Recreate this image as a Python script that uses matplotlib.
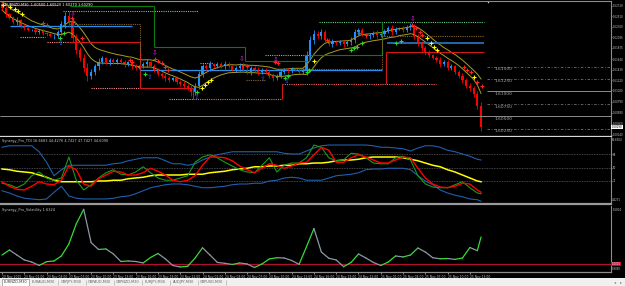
import numpy as np
import pandas as pd
import matplotlib
matplotlib.use("Agg")
import matplotlib.pyplot as plt
from matplotlib.transforms import blended_transform_factory as blend

plt.rcParams['font.family'] = ['DejaVu Sans']

# window texts
symbol_title = "\u25be EURNZD,M30  1.60500 1.60520 1.60270 1.60290"
tdi_title = "Synergy_Pro_TDI 16.6683 44.4276 4.7427 47.7427 44.6090"
vol_title = "Synergy_Pro_Volatility 1.6324"
tabs = ["EURNZD,M30", "EURAUD,M30", "GBPJPY,M30", "GBPAUD,M30",
        "GBPNZD,M30", "EURJPY,M30", "AUDJPY,M30", "GBPUSD,M30"]

# M30 candles (close of each bar, open = previous close)
first_open = 1.6275
closes = [1.6267, 1.6255, 1.6247, 1.6239, 1.6243, 1.6231, 1.6227, 1.6223, 1.6223, 1.6219,
          1.6221, 1.6217, 1.6215, 1.6211, 1.6211, 1.6219, 1.6235, 1.6251, 1.6239, 1.6207,
          1.6183, 1.6167, 1.6147, 1.6131, 1.6139, 1.6151, 1.6159, 1.6167, 1.6159, 1.6163,
          1.6159, 1.6163, 1.6159, 1.6155, 1.6159, 1.6151, 1.6147, 1.6151, 1.6155, 1.6159,
          1.6151, 1.6143, 1.6135, 1.6131, 1.6127, 1.6123, 1.6127, 1.6119, 1.6115, 1.6111,
          1.6107, 1.6099, 1.6111, 1.6135, 1.6151, 1.6147, 1.6155, 1.6151, 1.6155, 1.6151,
          1.6155, 1.6151, 1.6143, 1.6147, 1.6151, 1.6143, 1.6139, 1.6147, 1.6143, 1.6139,
          1.6143, 1.6139, 1.6131, 1.6127, 1.6131, 1.6139, 1.6143, 1.6141, 1.6145, 1.6143,
          1.6139, 1.6143, 1.6171, 1.6203, 1.6215, 1.6211, 1.6219, 1.6203, 1.6195, 1.6199,
          1.6197, 1.6199, 1.6195, 1.6199, 1.6203, 1.6219, 1.6223, 1.6215, 1.6211, 1.6213,
          1.6217, 1.6213, 1.6215, 1.6221, 1.6227, 1.6219, 1.6225, 1.6227, 1.6223, 1.6229,
          1.6231, 1.6211, 1.6195, 1.6187, 1.6179, 1.6173, 1.6167, 1.6163, 1.6155, 1.6159,
          1.6147, 1.6151, 1.6139, 1.6131, 1.6123, 1.6111, 1.6107, 1.6095, 1.6071, 1.6029]
wicks_pips = [4, 5, 3, 4, 6, 3, 4, 3, 2, 4, 3, 4, 3, 2, 5, 4, 6, 8, 10, 8,
              9, 6, 8, 10, 7, 5, 8, 4, 3, 5, 4, 3, 4, 5, 3, 6, 4, 3, 5, 6,
              3, 4, 3, 5, 6, 4, 3, 5, 4, 6, 5, 8, 6, 7, 5, 4, 6, 3, 5, 4,
              6, 5, 3, 4, 6, 4, 3, 5, 4, 6, 4, 3, 5, 6, 4, 5, 3, 4, 5, 3,
              4, 3, 10, 8, 9, 7, 6, 5, 4, 6, 3, 4, 5, 4, 6, 7, 5, 4, 3, 5,
              4, 6, 3, 4, 5, 6, 4, 3, 5, 4, 6, 5, 4, 6, 5, 4, 3, 5, 6, 4,
              5, 4, 3, 5, 6, 4, 6, 5, 7, 9]
last_price = 1.6029

price_ticks = [1.6272, 1.6251, 1.6230, 1.62085, 1.61875, 1.6164, 1.6143, 1.6122,
               1.6102, 1.6079, 1.6058, 1.6036, 1.6014]
round_levels = [1.6150, 1.6125, 1.6100, 1.6075, 1.6050, 1.6025]
round_labels = ["1.61500", "1.61250", "1.61000", "1.60750", "1.60500", "1.60250"]
solid_levels = [1.6100, 1.6050]

# signal marks (bar, price)
yellow_bars = [0.3, 2.2, 3.5, 4.3, 5.4, 53.8, 54.6, 55.4, 56.2, 84.1, 114.5, 115.6, 116.4, 117.2, 127.2]
yellow_prices = [1.6273, 1.6269, 1.6265, 1.6261, 1.6255, 1.6107, 1.6113, 1.6119, 1.6123, 1.6161,
                 1.6207, 1.6197, 1.6189, 1.6183, 1.6129]
green_bars = [15.6, 16.7, 38.4, 52.4, 76.1, 76.9, 82.0, 82.8, 94.1, 94.9, 95.7, 97.0, 106.2, 107.5]
green_prices = [1.6207, 1.6217, 1.6135, 1.6099, 1.6127, 1.6131, 1.6139, 1.6143, 1.6183, 1.6187,
                1.6189, 1.6197, 1.6197, 1.6201]
red_bars = [11.0, 12.1, 18.8, 19.1, 21.5, 34.4, 35.0, 41.1, 41.9, 43.0, 43.8, 44.6, 64.8, 65.9,
            73.4, 74.2, 87.4, 96.2, 98.1, 110.5, 111.6, 112.6, 113.2, 124.5, 125.3, 126.3, 128.0, 129.3]
red_prices = [1.6237, 1.6233, 1.6247, 1.6241, 1.6207, 1.6163, 1.6159, 1.6165, 1.6161, 1.6157,
              1.6149, 1.6143, 1.6153, 1.6151, 1.6159, 1.6157, 1.6203, 1.6217, 1.6213, 1.6233,
              1.6227, 1.6219, 1.6213, 1.6149, 1.6143, 1.6139, 1.6119, 1.6111]
sell_arrow_bars = [19.1, 41.1, 64.5, 73.7, 110.5]
sell_arrow_prices = [1.6255, 1.6177, 1.6165, 1.6163, 1.6245]
buy_arrow_bars = [15.9, 39.8, 52.4, 70.2, 76.6]
buy_arrow_prices = [1.6197, 1.6129, 1.6089, 1.6125, 1.6121]

# support / resistance steps: (from bar, to bar, price)
red_solid = [(0, 15.1, 1.6273), (18.3, 37.1, 1.6199), (37.1, 51.3, 1.6107), (103.5, 129.9, 1.6179)]
red_joins = [(37.1, 1.6199, 1.6107), (51.3, 1.6107, 1.6085), (75.5, 1.6085, 1.6115), (103.5, 1.6115, 1.6179)]
red_dotted = [(51.3, 75.5, 1.6085), (75.5, 117.0, 1.6115)]
salmon_dotted = [(4.8, 11.6, 1.6209), (12.0, 18.3, 1.6199), (24.0, 37.1, 1.6107), (45.0, 51.3, 1.6085)]
green_solid = [(18.3, 40.8, 1.6271), (40.8, 65.5, 1.6189), (65.5, 82.8, 1.6161), (82.8, 102.4, 1.6173)]
green_joins = [(40.8, 1.6271, 1.6189), (65.5, 1.6189, 1.6161), (82.8, 1.6161, 1.6173), (102.4, 1.6173, 1.6239)]
green_dotted = [(16.4, 52.7, 1.6261), (53.2, 56.7, 1.6157), (70.7, 82.8, 1.6173), (85.5, 129.9, 1.6239)]
blue_levels = [(2.2, 35.0, 1.6231), (37.1, 102.4, 1.6143)]
steel_levels = [(103.8, 129.9, 1.6197)]
brown_dotted = [(18.3, 37.1, 1.6235), (65.8, 71.2, 1.6123), (78.2, 102.4, 1.6145), (102.4, 129.9, 1.6211)]
brown_joins = [(37.1, 1.6235, 1.6159), (102.4, 1.6145, 1.6211)]

# TDI (sampled every second bar)
tdi_bars = list(range(0, 130, 2)) + [129]
tdi_upper = [77, 79, 79, 79, 79, 71, 57, 39, 47, 53, 53, 53, 53, 53, 53, 55, 56, 59, 61, 63,
             63, 63, 59, 55, 55, 53, 55, 60, 64, 67, 69, 71, 71, 71, 71, 71, 71, 71, 69, 68,
             68, 72, 76, 79, 80, 80, 80, 80, 80, 80, 79, 77, 77, 76, 75, 72, 76, 79, 79, 77,
             73, 71, 68, 65, 61, 60]
tdi_lower = [19, 16, 12, 9, 8, 7, 8, 17, 25, 12, 9, 8, 8, 8, 8, 9, 11, 12, 15, 19,
             23, 25, 27, 28, 28, 27, 25, 23, 23, 24, 25, 27, 28, 28, 29, 29, 32, 33, 36, 37,
             36, 33, 33, 33, 36, 39, 40, 41, 43, 47, 48, 48, 49, 49, 49, 47, 39, 32, 27, 20,
             16, 13, 11, 8, 7, 5]
tdi_base = [48, 47, 45, 44, 43, 40, 37, 33, 31, 31, 31, 31, 31, 32, 32, 33, 33, 35, 36, 37,
            39, 40, 40, 40, 40, 41, 41, 41, 43, 44, 45, 47, 48, 49, 51, 51, 52, 52, 53, 53,
            55, 55, 56, 56, 57, 59, 60, 60, 61, 63, 64, 64, 64, 64, 63, 61, 59, 56, 53, 51,
            47, 44, 40, 36, 32, 31]
tdi_signal = [31, 25, 21, 20, 25, 31, 28, 27, 33, 52, 47, 28, 25, 35, 40, 45, 44, 40, 40, 43,
              49, 45, 40, 33, 31, 33, 39, 53, 64, 64, 63, 59, 52, 47, 43, 49, 55, 53, 49, 52,
              56, 57, 67, 77, 73, 57, 57, 63, 67, 64, 60, 56, 56, 60, 64, 63, 49, 36, 28, 24,
              23, 25, 29, 28, 20, 17]
tdi_rsi = [29, 27, 23, 28, 39, 44, 36, 33, 36, 64, 33, 20, 27, 36, 43, 47, 41, 40, 44, 51,
           43, 36, 33, 33, 36, 39, 57, 64, 67, 63, 57, 52, 47, 44, 43, 53, 63, 44, 53, 56,
           56, 63, 80, 77, 63, 59, 60, 69, 68, 63, 56, 55, 55, 63, 65, 60, 39, 28, 24, 23,
           23, 27, 31, 23, 16, 15]
tdi_levels = [68, 50, 32]

volatility = [1.105, 1.164, 1.105, 1.047, 1.023, 0.982, 1.027, 1.035, 1.094, 1.234,
              1.47, 1.64, 1.25, 1.170, 1.176, 1.117, 1.029, 1.035, 1.029, 1.012,
              1.076, 1.123, 1.059, 0.982, 0.965, 0.973, 1.070, 1.190, 1.105, 1.018,
              1.008, 0.994, 1.012, 1.000, 0.959, 1.000, 1.059, 1.073, 1.070, 1.041,
              0.996, 1.202, 1.415, 1.140, 1.067, 1.047, 0.968, 1.018, 1.117, 1.070,
              1.018, 0.982, 1.023, 1.094, 1.082, 1.105, 1.187, 1.140, 1.073, 1.061,
              1.064, 1.054, 1.070, 1.193, 1.156, 1.316]
vol_level = 1.0

time_bars = list(range(0, 130, 6))
time_labels = ["20 Nov 2015", "23 Nov 01:00", "23 Nov 04:00", "23 Nov 07:00", "23 Nov 10:00",
               "23 Nov 13:00", "23 Nov 16:00", "23 Nov 19:00", "23 Nov 22:00", "24 Nov 01:00",
               "24 Nov 04:00", "24 Nov 07:00", "24 Nov 10:00", "24 Nov 13:00", "24 Nov 16:00",
               "24 Nov 19:00", "24 Nov 22:00", "25 Nov 01:00", "25 Nov 04:00", "25 Nov 07:00",
               "25 Nov 10:00", "25 Nov 13:00"]

GRID = '#8c8c8c'
TXT = '#c8c8c8'
FS = 2.5     # panel titles
FSR = 1.9    # right-hand scale labels
XLIM = (-0.54, 164.0)

fig = plt.figure(figsize=(6.25, 2.86), dpi=100, facecolor='black')
W, H = 625.0, 286.0


def px_axes(x0, y0, x1, y1):
    return fig.add_axes([x0 / W, 1 - y1 / H, (x1 - x0) / W, (y1 - y0) / H])


ax = px_axes(0, 1, 611, 136)
ax_tdi = px_axes(0, 137, 611, 204)
ax_vol = px_axes(0, 206, 611, 272)
ax_tab = px_axes(0, 278, 625, 286)

for a in (ax, ax_tdi, ax_vol):
    a.set_facecolor('black')
    a.set_xlim(*XLIM)
    a.spines['left'].set_visible(False)
    a.spines['top'].set_visible(False)
    a.spines['right'].set_color(GRID)
    a.spines['right'].set_linewidth(0.8)
    a.yaxis.tick_right()
    a.tick_params(axis='y', labelsize=FSR, colors=TXT, length=1.0, width=0.5, pad=0.3)
    a.tick_params(axis='x', bottom=False, labelbottom=False)
ax.spines['top'].set_visible(True)
ax.spines['top'].set_color(GRID)
ax.spines['bottom'].set_color('#d8d8d8')
ax.spines['bottom'].set_linewidth(0.9)
ax_tdi.spines['bottom'].set_color('#9a9a9a')
ax_tdi.spines['bottom'].set_linewidth(1.6)
ax_vol.spines['bottom'].set_color(GRID)
ax_vol.spines['bottom'].set_linewidth(0.9)

# ---------------- main price chart ----------------
ax.set_ylim(1.6011, 1.6281)
bars = np.arange(len(closes))
cl = np.array(closes)
op = np.array([first_open] + closes[:-1])
wk = np.array(wicks_pips) * 0.0001
hi = np.maximum(op, cl) + wk
lo = np.minimum(op, cl) - wk
col = np.where(cl >= op, '#1e90ff', '#ff0000')

# olive channel of the highs and lows
ax.plot(bars, pd.Series(hi).ewm(span=10).mean(), color='#a89e22', lw=0.7)
ax.plot(bars, pd.Series(lo).ewm(span=10).mean(), color='#a89e22', lw=0.7)


def draw_levels(segs, color, lw, ls):
    for b0, b1, p in segs:
        ax.hlines(p, b0, b1, colors=color, lw=lw, linestyles=ls)


def draw_joins(joins, color, lw, ls):
    for b, p0, p1 in joins:
        ax.vlines(b, min(p0, p1), max(p0, p1), colors=color, lw=lw, linestyles=ls)


draw_levels(salmon_dotted, '#ff8c8c', 0.8, (0, (1, 1)))
draw_levels(red_dotted, '#ff6060', 0.8, (0, (1, 1)))
draw_levels(red_solid, '#d01818', 0.8, '-')
draw_joins(red_joins, '#d01818', 0.8, '-')
draw_levels(green_dotted, '#60d080', 0.8, (0, (1, 1)))
draw_levels(green_solid, '#0c7a0c', 0.8, '-')
draw_joins(green_joins, '#0c7a0c', 0.8, '-')
draw_levels(brown_dotted, '#8a6426', 0.8, (0, (1, 1)))
draw_joins(brown_joins, '#8a6426', 0.8, (0, (1, 1)))
draw_levels(blue_levels, '#2a8ee8', 0.9, '-')
draw_levels(steel_levels, '#2d6db8', 1.3, '-')

ax.vlines(bars, lo, hi, colors=col, lw=0.6)
ax.bar(bars, np.maximum(np.abs(cl - op), 0.00006), bottom=np.minimum(op, cl),
       width=0.58, color=col, lw=0)

ax.scatter(yellow_bars, yellow_prices, marker='+', s=5, color='#ffff00', lw=0.8, zorder=5)
ax.scatter(green_bars, green_prices, marker='+', s=5, color='#22dd22', lw=0.8, zorder=5)
ax.scatter(red_bars, red_prices, marker='+', s=5, color='#ff2020', lw=0.8, zorder=5)
for b, p in zip(sell_arrow_bars, sell_arrow_prices):
    ax.text(b, p, '\u21e9', color='#e020e0', fontsize=5, ha='center', va='center', zorder=6)
for b, p in zip(buy_arrow_bars, buy_arrow_prices):
    ax.text(b, p, '\u21e7', color='#3050e0', fontsize=5, ha='center', va='center', zorder=6)

# round-number levels in the shifted area
for lvl, lab in zip(round_levels, round_labels):
    if lvl == 1.6050:
        ax.hlines(lvl, XLIM[0], XLIM[1], colors=GRID, lw=0.7)
    elif lvl in solid_levels:
        ax.hlines(lvl, 130.6, XLIM[1], colors=GRID, lw=0.7)
    else:
        ax.hlines(lvl, 130.6, XLIM[1], colors='#707070', lw=0.6, linestyles=(0, (3, 2, 1, 2)))
    ax.text(132.6, lvl - 0.0001, lab, color='#a8a8a8', fontsize=3.2, va='top', ha='left')

ax.set_yticks(price_ticks)
ax.set_yticklabels([f"{t:.5f}" for t in price_ticks])
tr = blend(ax.transAxes, ax.transData)
ax.text(1.001, last_price, f"{last_price:.5f}", transform=tr, fontsize=FSR, color='black',
        va='center', ha='left', bbox=dict(fc='white', ec='none', pad=0.25))
ax.text(0.004, 0.985, symbol_title, transform=ax.transAxes, fontsize=FS, color='white',
        va='top', ha='left')
ax.scatter([130.8], [1.62795], marker='v', s=3, color='#d0d0d0', lw=0)

# ---------------- TDI ----------------
ax_tdi.set_ylim(1.3, 90.7)
for lvl in tdi_levels:
    ax_tdi.axhline(lvl, color='#5a5a5a', lw=0.6, ls=(0, (1, 1)))
ax_tdi.plot(tdi_bars, tdi_upper, color='#1f5fae', lw=0.8)
ax_tdi.plot(tdi_bars, tdi_lower, color='#1f5fae', lw=0.8)
ax_tdi.plot(tdi_bars, tdi_base, color='#ffff00', lw=1.1)
ax_tdi.plot(tdi_bars, tdi_rsi, color='#1a9a1a', lw=0.8)
ax_tdi.plot(tdi_bars, tdi_signal, color='#ff0000', lw=1.0)
ax_tdi.set_yticks(tdi_levels)
ax_tdi.set_yticklabels([str(v) for v in tdi_levels])
ax_tdi.text(1.002, 0.95, "90.6904", transform=ax_tdi.transAxes, fontsize=FSR, color=TXT,
            va='center', ha='left')
ax_tdi.text(1.002, 0.06, "4.4271", transform=ax_tdi.transAxes, fontsize=FSR, color=TXT,
            va='center', ha='left')
ax_tdi.text(0.004, 0.97, tdi_title, transform=ax_tdi.transAxes, fontsize=FS, color=TXT,
            va='top', ha='left')

# ---------------- volatility ----------------
ax_vol.set_ylim(0.906, 1.679)
ax_vol.axhline(vol_level, color='#b01030', lw=0.9)
for i in range(len(volatility) - 1):
    c = '#33dd33' if volatility[i + 1] > volatility[i] else '#8d97a3'
    ax_vol.plot(tdi_bars[i:i + 2], volatility[i:i + 2], color=c, lw=0.9,
                solid_capstyle='round')
ax_vol.set_yticks([])
trv = blend(ax_vol.transAxes, ax_vol.transData)
ax_vol.text(1.001, vol_level, "1.0000", transform=trv, fontsize=FSR, color='white',
            va='center', ha='left', bbox=dict(fc='#c01030', ec='none', pad=0.25))
ax_vol.text(1.002, 0.94, "1.6804", transform=ax_vol.transAxes, fontsize=FSR, color=TXT,
            va='center', ha='left')
ax_vol.text(1.002, 0.05, "0.9060", transform=ax_vol.transAxes, fontsize=FSR, color=TXT,
            va='center', ha='left')
ax_vol.text(0.004, 0.97, vol_title, transform=ax_vol.transAxes, fontsize=FS, color=TXT,
            va='top', ha='left')
ax_vol.tick_params(axis='x', bottom=True, labelbottom=True, labelsize=2.2, colors=TXT,
                   length=1.2, width=0.5, pad=0.6)
ax_vol.set_xticks(time_bars)
ax_vol.set_xticklabels(time_labels, ha='left')

# ---------------- symbol tabs ----------------
ax_tab.set_facecolor('#f0f0f0')
ax_tab.set_xlim(0, 625)
ax_tab.set_ylim(0, 8)
ax_tab.axis('off')
ax_tab.add_patch(plt.Rectangle((0, 0), 625, 8, fc='#f0f0f0', ec='none'))
for i, name in enumerate(tabs):
    x0 = 2 + i * 28
    if i == 0:
        ax_tab.add_patch(plt.Rectangle((x0, 0.5), 27, 7, fc='white', ec='#909090', lw=0.5))
    else:
        ax_tab.vlines(x0 + 27.5, 1.5, 6.5, colors='#b0b0b0', lw=0.5)
    ax_tab.text(x0 + 13.5, 4, name, fontsize=2.5, color='#303030' if i == 0 else '#606060',
                ha='center', va='center')
ax_tab.text(615, 4, '\u25c2', fontsize=3, color='#808080', ha='center', va='center')
ax_tab.text(621, 4, '\u25b8', fontsize=3, color='#808080', ha='center', va='center')

fig.savefig('out.png', dpi=100, facecolor='black')
